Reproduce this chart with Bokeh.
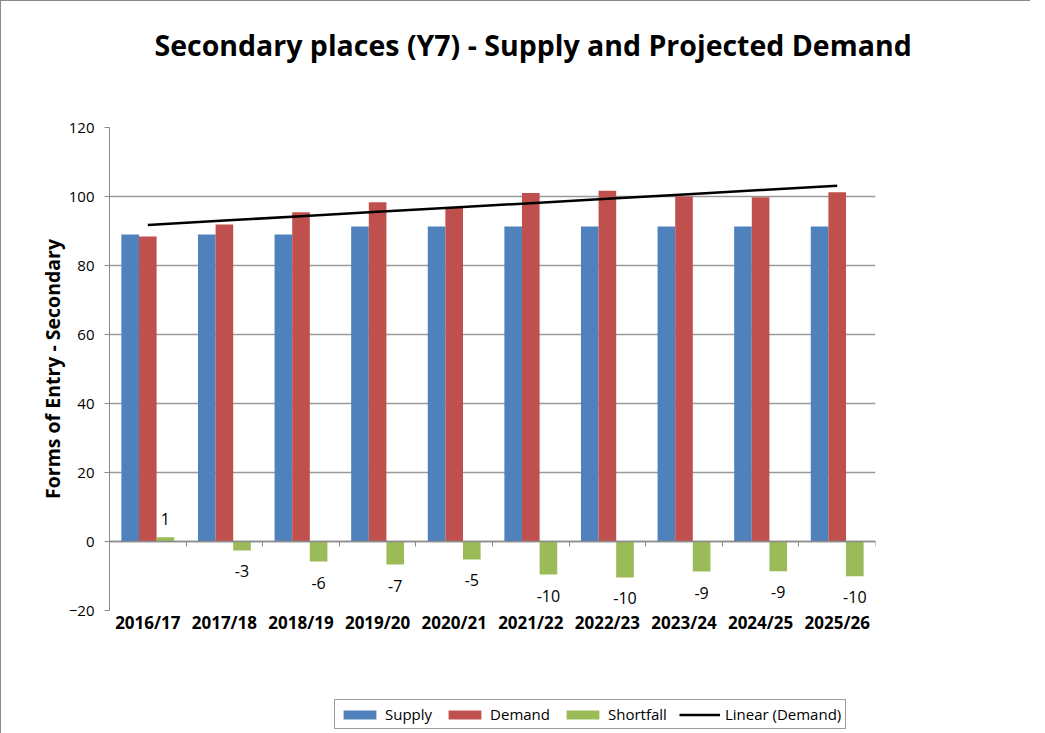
import numpy as np
from bokeh.plotting import figure
from bokeh.layouts import column
from bokeh.models import (ColumnDataSource, LinearAxis, FixedTicker, Legend,
                          LegendItem, Range1d)
from bokeh.embed import file_html
from bokeh.resources import INLINE

# ---- data ----
years = ["2016/17", "2017/18", "2018/19", "2019/20", "2020/21",
         "2021/22", "2022/23", "2023/24", "2024/25", "2025/26"]
supply = [89.0, 89.0, 89.0, 91.3, 91.3, 91.3, 91.3, 91.3, 91.3, 91.3]
demand = [88.4, 91.9, 95.4, 98.3, 96.7, 101.0, 101.7, 100.0, 99.8, 101.2]
shortfall = [1.2, -2.6, -5.8, -6.7, -5.2, -9.6, -10.4, -8.7, -8.6, -10.1]
y_ticks = [-20, 0, 20, 40, 60, 80, 100, 120]
series_names = ["Supply", "Demand", "Shortfall", "Linear (Demand)"]
series_colors = ["#4F81BD", "#C0504D", "#9BBB59", "black"]

FONT = "Open Sans"
GRID = "#9a9a9a"
AXIS = "#8a8a8a"

idx = np.arange(len(years))
xc = idx + 0.5
bw = 0.23

coef = np.polyfit(idx + 1, demand, 1)
trend = np.polyval(coef, idx + 1)

sf = np.array(shortfall)
src = ColumnDataSource(dict(
    xs=xc - bw, xd=xc, xf=xc + bw,
    supply=supply, demand=demand, shortfall=shortfall,
    lab=[str(int(round(v))) for v in shortfall],
    yoff=np.where(sf >= 0, -18, 21),
    trend=trend, xc=xc,
))

p = figure(frame_width=766, frame_height=483,
           min_border_left=108, min_border_top=126,
           min_border_right=155, min_border_bottom=60,
           x_range=Range1d(0, len(years)), y_range=Range1d(y_ticks[0], y_ticks[-1]),
           output_backend="svg", toolbar_location=None)
p.outline_line_color = None
p.background_fill_color = "white"
p.border_fill_color = "white"

# title (trailing empty line lifts the title within its panel)
p.title.text = "Secondary places (Y7) - Supply and Projected Demand\n"
p.title.align = "left"
p.title.offset = 45
p.title.vertical_align = "top"
p.title.standoff = 47
p.title.text_font = FONT
p.title.text_font_size = "28.5px"
p.title.text_font_style = "bold"
p.title.text_color = "black"

# y axis
ya = p.yaxis[0]
ya.ticker = FixedTicker(ticks=y_ticks)
ya.axis_line_color = AXIS
ya.major_tick_line_color = AXIS
ya.major_tick_out = 5
ya.major_tick_in = 0
ya.minor_tick_line_color = None
ya.major_label_text_font = FONT
ya.major_label_text_font_size = "15px"
ya.major_label_text_color = "black"
ya.major_label_standoff = 10
ya.axis_label = "Forms of Entry - Secondary"
ya.axis_label_text_font = FONT
ya.axis_label_text_font_size = "19.5px"
ya.axis_label_text_font_style = "bold"
ya.axis_label_text_color = "black"
ya.axis_label_standoff = 0

# category x axis (labels at the bottom)
xa = p.xaxis[0]
xa.ticker = FixedTicker(ticks=list(xc))
xa.major_label_overrides = {float(x): y for x, y in zip(xc, years)}
xa.axis_line_color = None
xa.major_tick_line_color = None
xa.major_tick_out = 0
xa.major_tick_in = 0
xa.minor_tick_line_color = None
xa.major_label_text_font = FONT
xa.major_label_text_font_size = "17px"
xa.major_label_text_font_style = "bold"
xa.major_label_text_color = "black"
xa.major_label_standoff = 0

# category axis line crossing at zero with boundary ticks
zero_axis = LinearAxis(fixed_location=0,
                       ticker=FixedTicker(ticks=list(range(len(years) + 1))),
                       axis_line_color=AXIS, axis_line_width=1.5,
                       major_tick_line_color=AXIS, major_tick_out=5, major_tick_in=0,
                       minor_tick_line_color=None,
                       major_label_text_color=None, major_label_text_font_size="1px",
                       major_label_standoff=0)
p.add_layout(zero_axis, "below")

p.xgrid.visible = False
p.ygrid.grid_line_color = GRID
p.ygrid.grid_line_width = 1.5

p.vbar(x="xs", top="supply", width=bw, source=src, fill_color=series_colors[0], line_color=None)
p.vbar(x="xd", top="demand", width=bw, source=src, fill_color=series_colors[1], line_color=None)
p.vbar(x="xf", top="shortfall", width=bw, source=src, fill_color=series_colors[2], line_color=None)
p.line(x="xc", y="trend", source=src, line_color=series_colors[3], line_width=2.5)

p.text(x="xf", y="shortfall", text="lab", source=src, y_offset="yoff",
       text_align="center", text_baseline="middle",
       text_font={"value": FONT}, text_font_size="16px", text_color="black")

# ---- legend strip below the chart (proxy renderers sit far outside its view) ----
q = figure(width=1029, height=64, min_border_left=0, min_border_right=0,
           min_border_top=0, min_border_bottom=0,
           x_range=Range1d(1000, 1001), y_range=Range1d(1000, 1001),
           output_backend="svg", toolbar_location=None)
q.axis.visible = False
q.grid.visible = False
q.outline_line_color = None
q.background_fill_color = "white"
q.border_fill_color = "white"

items = []
for name, col, top in zip(series_names[:3], series_colors[:3], ["supply", "demand", "shortfall"]):
    r = q.vbar(x="xc", top=top, width=bw, source=src, fill_color=col, line_color=None)
    items.append(LegendItem(label=name, renderers=[r]))
r = q.line(x="xc", y="trend", source=src, line_color=series_colors[3], line_width=2.5)
items.append(LegendItem(label=series_names[3], renderers=[r]))

legend = Legend(items=items, orientation="horizontal", location=(225, 5),
                glyph_width=41, glyph_height=11, label_standoff=5, spacing=12,
                padding=4, margin=0,
                label_text_font=FONT, label_text_font_size="15px", label_text_color="black",
                border_line_color="#3a3a3a", border_line_width=1,
                background_fill_color="white", background_fill_alpha=1)
q.add_layout(legend, "center")

layout = column(p, q, spacing=0)
layout.styles = {"border-left": "1px solid #8a8a8a", "border-top": "1px solid #8a8a8a"}

open("out.html", "w").write(file_html(layout, INLINE))
